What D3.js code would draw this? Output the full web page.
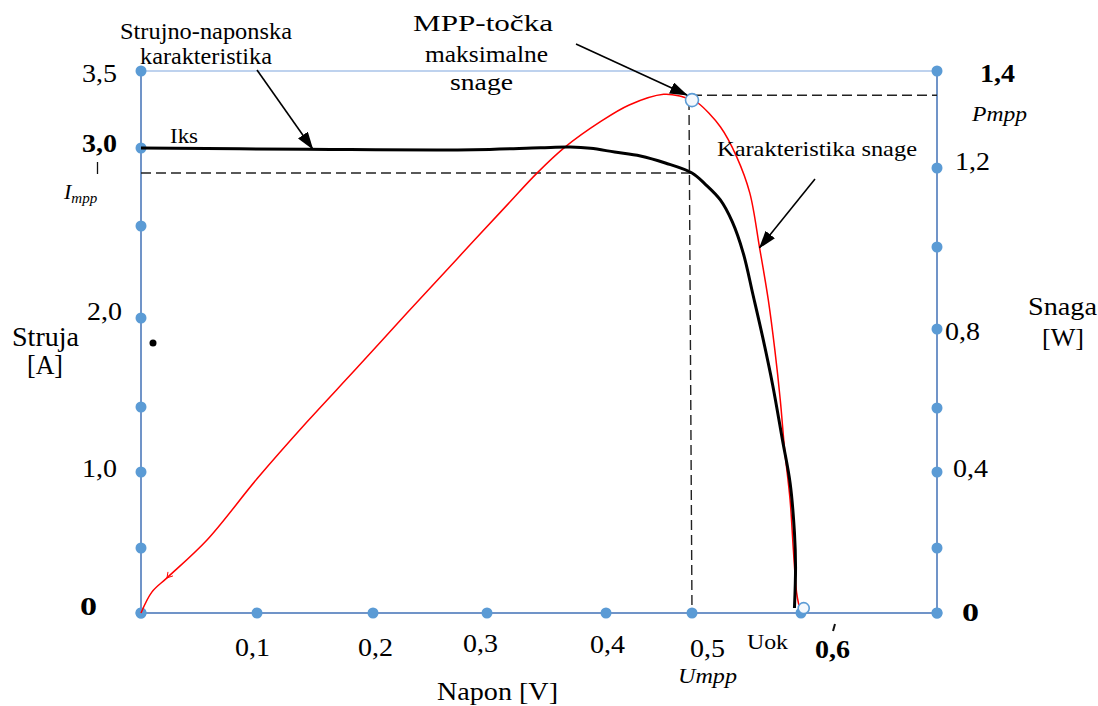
<!DOCTYPE html>
<html>
<head>
<meta charset="utf-8">
<script src="https://cdn.jsdelivr.net/npm/d3@7"></script>
<style>
body{margin:0;background:#fff;}
</style>
</head>
<body>
<div id="chart_container"></div>
<script>
// ticks (dots on the frame)
var voltTicks = [0, 0.1, 0.2, 0.3, 0.4, 0.5, 0.6, 0.7];
var currTicks = [0, 0.5, 1.0, 1.5, 2.0, 2.5, 3.0, 3.5];
var powTicks = [0, 0.2, 0.4, 0.6, 0.8, 1.0, 1.2, 1.4];

// labelled ticks
var voltLabels = ["0,1", "0,2", "0,3", "0,4", "0,5", "0,6"];
var voltLabelVals = [0.1, 0.2, 0.3, 0.4, 0.5, 0.6];
var currLabels = ["0", "1,0", "2,0", "3,0", "3,5"];
var currLabelVals = [0, 1.0, 2.0, 3.0, 3.5];
var powLabels = ["0", "0,4", "0,8", "1,2", "1,4"];
var powLabelVals = [0, 0.4, 0.8, 1.2, 1.4];

// strujno-naponska karakteristika (I-U)
var ivVoltage = [0, 0.143, 0.288, 0.345, 0.370, 0.387, 0.410, 0.440, 0.469, 0.500, 0.512, 0.526, 0.537, 0.547, 0.556, 0.565, 0.574, 0.583, 0.590, 0.594, 0.595, 0.594];
var ivCurrent = [3.0, 2.992, 2.989, 3.002, 3.006, 2.998, 2.974, 2.949, 2.904, 2.840, 2.769, 2.667, 2.526, 2.353, 2.125, 1.888, 1.624, 1.246, 0.928, 0.599, 0.354, 0.038];

// karakteristika snage (P-U)
var pVoltage = [0, 0.0095, 0.0224, 0.0569, 0.1, 0.143, 0.186, 0.2298, 0.2737, 0.3168, 0.342, 0.3655, 0.395, 0.427, 0.467, 0.487, 0.500, 0.5055, 0.526, 0.541, 0.553, 0.562, 0.570, 0.576, 0.581, 0.585, 0.590, 0.593, 0.596, 0.598];
var pPower = [0, 0.065, 0.108, 0.221, 0.382, 0.556, 0.701, 0.839, 0.971, 1.106, 1.187, 1.243, 1.295, 1.330, 1.352, 1.348, 1.340, 1.334, 1.285, 1.223, 1.137, 0.998, 0.871, 0.747, 0.620, 0.469, 0.326, 0.194, 0.062, 0.025];

// special points
var mppVoltage = 0.5, mppPower = 1.340, mppCurrent = 2.84, mppPowerLine = 1.35;
var uokVoltage = 0.602, uokPower = 0.015;

var width = 1098, height = 706;
var axis_color = "#7094c8", dot_color = "#5b9bd5";
var font = "'Liberation Serif', 'Times New Roman', 'DejaVu Serif', serif";

var svgContainer = d3.select(document.getElementById("chart_container")).append("svg")
	.attr("width", width)
	.attr("height", height)
	.attr("font-family", font);

// hand drawn frame -> piecewise scales
var x = d3.scaleLinear().domain(voltTicks).range([141, 257, 373, 487, 606, 692, 801, 937]);
var yI = d3.scaleLinear().domain(currTicks).range([613, 548, 472, 407, 318, 226, 148, 71]);
var yP = d3.scaleLinear().domain(powTicks).range([613, 548, 472, 408, 329, 247, 168, 71]);

var defs = svgContainer.append("defs");
defs.append("marker")
	.attr("id", "arrow")
	.attr("viewBox", "0 0 18 12")
	.attr("markerUnits", "userSpaceOnUse")
	.attr("markerWidth", 18).attr("markerHeight", 12)
	.attr("refX", 17).attr("refY", 6)
	.attr("orient", "auto")
	.append("path").attr("d", "M0,0 L18,6 L0,12 z").attr("fill", "#000");

// frame
var x0 = x(0), x1 = x(0.7), yb = yI(0), yt = yI(3.5);
svgContainer.append("line").attr("x1", x0).attr("x2", x1).attr("y1", yt).attr("y2", yt)
	.attr("stroke", "#a8c3e8").attr("stroke-width", 1.3);
svgContainer.append("line").attr("x1", x0).attr("x2", x1).attr("y1", yb).attr("y2", yb)
	.attr("stroke", axis_color).attr("stroke-width", 2);
svgContainer.append("line").attr("x1", x0).attr("x2", x0).attr("y1", yt).attr("y2", yb)
	.attr("stroke", axis_color).attr("stroke-width", 2);
svgContainer.append("line").attr("x1", x1).attr("x2", x1).attr("y1", yt).attr("y2", yb)
	.attr("stroke", axis_color).attr("stroke-width", 2);

// dashed helper lines
var dash = "10,5";
svgContainer.append("line").attr("x1", x(0)).attr("x2", x(mppVoltage))
	.attr("y1", yI(mppCurrent)).attr("y2", yI(mppCurrent))
	.attr("stroke", "#222").attr("stroke-width", 1.4).attr("stroke-dasharray", dash);
svgContainer.append("line").attr("x1", x(mppVoltage) - 3).attr("x2", x(mppVoltage))
	.attr("y1", yP(mppPower)).attr("y2", yP(0))
	.attr("stroke", "#222").attr("stroke-width", 1.4).attr("stroke-dasharray", dash);
svgContainer.append("line").attr("x1", x(mppVoltage)).attr("x2", x(0.7))
	.attr("y1", yP(mppPowerLine)).attr("y2", yP(mppPowerLine))
	.attr("stroke", "#222").attr("stroke-width", 1.4).attr("stroke-dasharray", dash);

// dots
svgContainer.selectAll(".xdot").data(voltTicks).enter().append("circle")
	.attr("cx", function(d){ return x(d); }).attr("cy", yb).attr("r", 5.5).attr("fill", dot_color);
svgContainer.selectAll(".ldot").data(currTicks).enter().append("circle")
	.attr("cx", x0).attr("cy", function(d){ return yI(d); }).attr("r", 5.5).attr("fill", dot_color);
svgContainer.selectAll(".rdot").data(powTicks).enter().append("circle")
	.attr("cx", x1).attr("cy", function(d){ return yP(d); }).attr("r", 5.5).attr("fill", dot_color);

// curves
var ivData = ivVoltage.map(function(v, i){ return [v, ivCurrent[i]]; });
var pData = pVoltage.map(function(v, i){ return [v, pPower[i]]; });

var ivLine = d3.line()
	.x(function(d){ return x(d[0]); })
	.y(function(d){ return yI(d[1]); })
	.curve(d3.curveCatmullRom.alpha(0.5));
var pLine = d3.line()
	.x(function(d){ return x(d[0]); })
	.y(function(d){ return yP(d[1]); })
	.curve(d3.curveCatmullRom.alpha(0.5));

svgContainer.append("path").datum(pData).attr("d", pLine)
	.attr("fill", "none").attr("stroke", "#ff0000").attr("stroke-width", 1.5);
svgContainer.append("path").datum(ivData).attr("d", ivLine)
	.attr("fill", "none").attr("stroke", "#000").attr("stroke-width", 3);

// tiny tick on the red line near the origin
var px = x(pVoltage[2]), py = yP(pPower[2]);
svgContainer.append("path")
	.attr("d", "M" + (px + 1) + "," + (py - 6) + " L" + px + "," + py + " L" + (px + 6) + "," + (py - 2))
	.attr("fill", "none").attr("stroke", "#ff0000").attr("stroke-width", 1);

// mpp and uok points
svgContainer.append("circle").attr("cx", x(mppVoltage)).attr("cy", yP(mppPower)).attr("r", 6.5)
	.attr("fill", "#f4f8fd").attr("stroke", dot_color).attr("stroke-width", 1.6);
svgContainer.append("circle").attr("cx", x(uokVoltage)).attr("cy", yP(uokPower)).attr("r", 5.5)
	.attr("fill", "#f4f8fd").attr("stroke", dot_color).attr("stroke-width", 1.6);

// stray dot
svgContainer.append("circle").attr("cx", 153).attr("cy", 343).attr("r", 3.5).attr("fill", "#000");

function tlen(d){ return d.length == 1 ? 17 : 35; }

// left labels
var leftDy = [2, 5, 2, 4, 11];
svgContainer.selectAll(".llab").data(currLabels).enter().append("text")
	.attr("x", function(d, i){ return d == "0" ? 97 : (d == "2,0" ? 122 : 117); })
	.attr("y", function(d, i){ return yI(currLabelVals[i]) + leftDy[i]; })
	.attr("text-anchor", "end")
	.attr("font-size", 25)
	.attr("textLength", tlen).attr("lengthAdjust", "spacingAndGlyphs")
	.attr("font-weight", function(d){ return (d == "0" || d == "3,0") ? "bold" : "normal"; })
	.text(function(d){ return d; });

// right labels
var rightX = [962, 953, 945, 955, 980];
var rightDy = [8, 5, 11, 2, 11];
svgContainer.selectAll(".rlab").data(powLabels).enter().append("text")
	.attr("x", function(d, i){ return rightX[i]; })
	.attr("y", function(d, i){ return yP(powLabelVals[i]) + rightDy[i]; })
	.attr("font-size", 25)
	.attr("textLength", tlen).attr("lengthAdjust", "spacingAndGlyphs")
	.attr("font-weight", function(d){ return (d == "0" || d == "1,4") ? "bold" : "normal"; })
	.text(function(d){ return d; });

// bottom labels
var bottomDx = [-4.5, 2.5, -6.5, 1.5, 15.5, 31.5];
var bottomY = [656, 656, 652, 653, 657, 658];
svgContainer.selectAll(".blab").data(voltLabels).enter().append("text")
	.attr("x", function(d, i){ return x(voltLabelVals[i]) + bottomDx[i] - 17.5; })
	.attr("y", function(d, i){ return bottomY[i]; })
	.attr("font-size", 25)
	.attr("textLength", 35).attr("lengthAdjust", "spacingAndGlyphs")
	.attr("font-weight", function(d){ return d == "0,6" ? "bold" : "normal"; })
	.text(function(d){ return d; });

// free text: left edge, baseline, size, width
function addText(t, tx, ty, size, len, style, weight){
	var el = svgContainer.append("text")
		.attr("x", tx).attr("y", ty)
		.attr("font-size", size)
		.attr("font-style", style || "normal")
		.attr("font-weight", weight || "normal")
		.text(t);
	if(len){
		el.attr("textLength", len).attr("lengthAdjust", "spacingAndGlyphs");
	}
	return el;
}

addText("Umpp", 678, 683, 20, 59, "italic");
addText("Uok", 747, 649, 21, 41);
addText("Napon [V]", 437, 700, 25, 121);
addText("Struja", 12, 346, 27, 67);
addText("[A]", 27, 374, 27, 36);
addText("Snaga", 1028, 315, 26, 69);
addText("[W]", 1042, 346, 26, 42);
addText("Pmpp", 972, 121, 21, 55, "italic");
addText("Iks", 170, 143, 21, 28);
addText("Strujno-naponska", 120, 39, 23, 172);
addText("karakteristika", 140, 64, 23, 132);
addText("MPP-to\u010dka", 413, 31, 24, 140);
addText("maksimalne", 425, 62, 24, 123);
addText("snage", 450, 90, 24, 63);
addText("Karakteristika snage", 717, 156, 22, 200);

// small mark above 0,6
svgContainer.append("line").attr("x1", 835).attr("x2", 833).attr("y1", 624).attr("y2", 631)
	.attr("stroke", "#111").attr("stroke-width", 2);

// I_mpp
var impp = addText("I", 64, 199, 22, null, "italic");
impp.append("tspan").attr("font-size", 15).attr("dy", 4).text("mpp");
svgContainer.append("line").attr("x1", 97.5).attr("x2", 97.5).attr("y1", 162).attr("y2", 174)
	.attr("stroke", "#111").attr("stroke-width", 1.3);

// arrows
function addArrow(ax, ay, bx, by){
	svgContainer.append("line")
		.attr("x1", ax).attr("y1", ay).attr("x2", bx).attr("y2", by)
		.attr("stroke", "#000").attr("stroke-width", 1.6)
		.attr("marker-end", "url(#arrow)");
}
addArrow(257, 70, x(0.148), yI(3.0) + 1);
addArrow(576, 44, x(mppVoltage) - 5, yP(mppPower) - 5);
addArrow(815, 179, x(0.562), yP(0.998));
</script>
</body>
</html>
